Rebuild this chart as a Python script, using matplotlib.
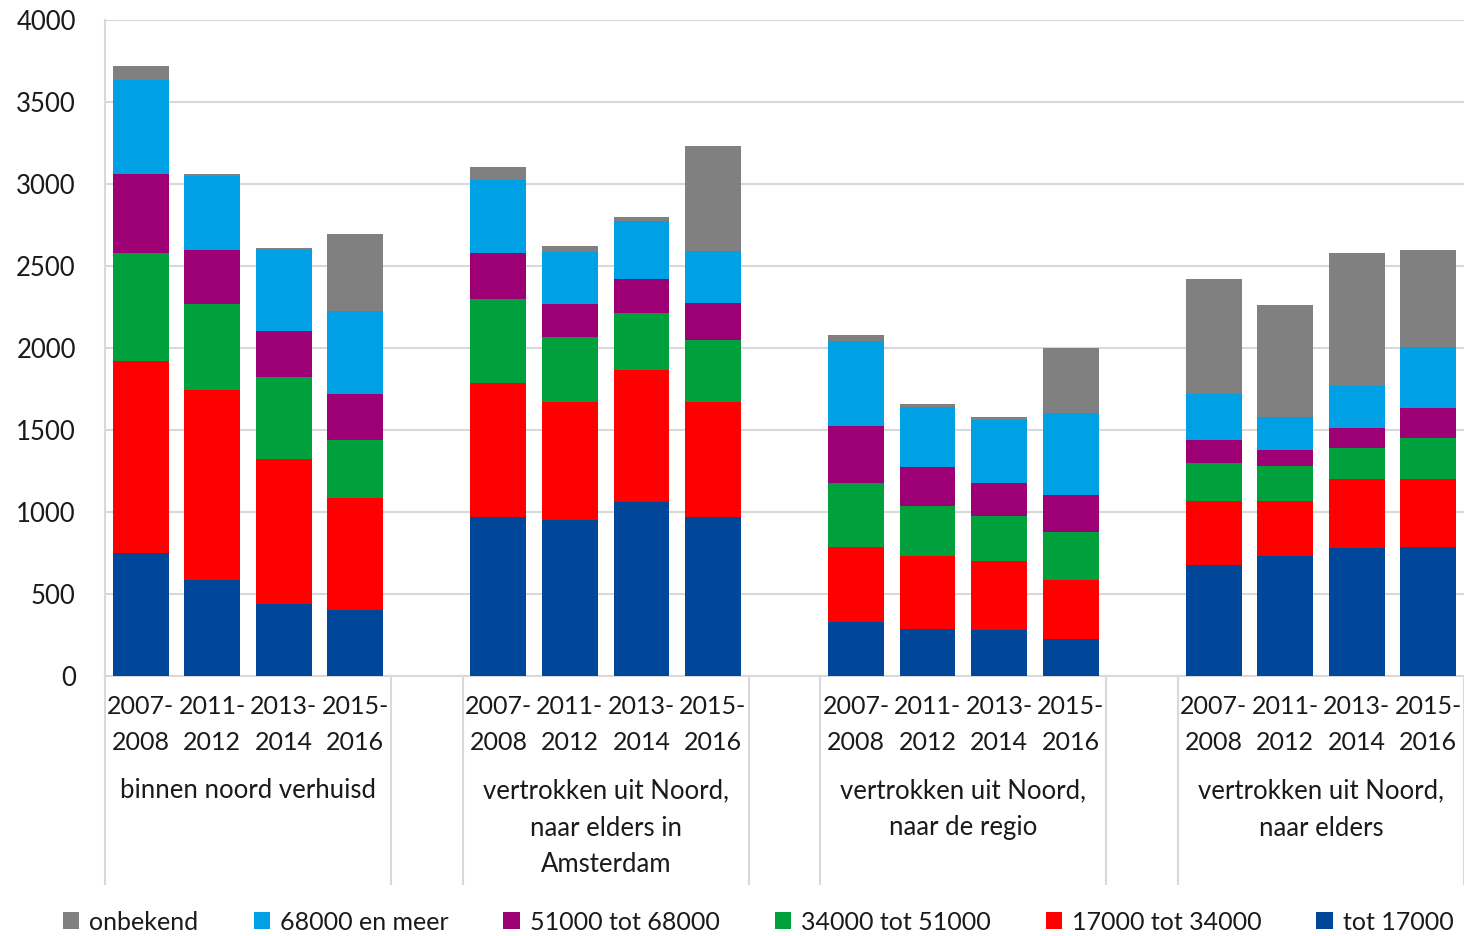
import numpy as np
import matplotlib.pyplot as plt

plt.rcParams['font.family'] = ['Lato', 'DejaVu Sans']

# categories
groups = ['binnen noord verhuisd',
          'vertrokken uit Noord,\nnaar elders in\nAmsterdam',
          'vertrokken uit Noord,\nnaar de regio',
          'vertrokken uit Noord,\nnaar elders']
periods_top = ['2007-', '2011-', '2013-', '2015-']
periods_bot = ['2008', '2012', '2014', '2016']

# series (4 groups x 4 periods, flattened)
tot_17000 = [750, 583, 436, 403,  967, 952, 1061, 970,  327, 285, 281, 224,  677, 732, 783, 787]
t17_34 = [1172, 1160, 890, 683,  822, 718, 804, 700,  458, 445, 422, 359,  390, 335, 421, 412]
t34_51 = [657, 528, 496, 354,  511, 395, 348, 380,  392, 309, 271, 295,  230, 212, 189, 251]
t51_68 = [482, 324, 280, 281,  278, 205, 209, 224,  346, 238, 203, 226,  142, 101, 118, 187]
meer_68 = [571, 455, 493, 504,  444, 317, 350, 317,  518, 362, 386, 500,  283, 200, 256, 372]
onbekend = [88, 8, 14, 473,  82, 35, 28, 640,  41, 20, 17, 396,  697, 681, 811, 589]

series = [('tot 17000', tot_17000, '#00479a'),
          ('17000 tot 34000', t17_34, '#ff0000'),
          ('34000 tot 51000', t34_51, '#00a03c'),
          ('51000 tot 68000', t51_68, '#9c0074'),
          ('68000 en meer', meer_68, '#00a0e4'),
          ('onbekend', onbekend, '#808080')]

fig = plt.figure(figsize=(14.64, 9.36), dpi=100)
ax = fig.add_axes([105 / 1464, 260 / 936, 1359 / 1464, 656 / 936])

# positions: 4 bars per group, one empty slot between groups
x = np.array([g * 5 + i for g in range(4) for i in range(4)])
bottom = np.zeros(len(x))
handles = {}
for name, vals, col in series:
    b = ax.bar(x, vals, width=0.78, bottom=bottom, color=col, label=name, zorder=3)
    handles[name] = b
    bottom += np.array(vals)

ax.set_xlim(-0.5, 18.5)
ax.set_ylim(0, 4000)
ax.set_yticks(range(0, 4001, 500))
ax.tick_params(axis='y', length=0, pad=21, labelsize=18.5, labelcolor='#1a1a1a')
ax.set_xticks([])
ax.grid(axis='y', color='#d9d9d9', linewidth=1.5, zorder=0)
for s in ['top', 'right']:
    ax.spines[s].set_visible(False)
for s in ['left', 'bottom']:
    ax.spines[s].set_color('#d9d9d9')
    ax.spines[s].set_linewidth(1.5)

# multi-level category axis
tr = ax.get_xaxis_transform()
for xi, k in zip(x, range(len(x))):
    ax.text(xi, -31 / 656, periods_top[k % 4], transform=tr, ha='center', va='center',
            fontsize=18, color='#1a1a1a')
    ax.text(xi, -67 / 656, periods_bot[k % 4], transform=tr, ha='center', va='center',
            fontsize=18, color='#1a1a1a')
for g, label in enumerate(groups):
    xc = g * 5 + 1.5
    for j, line in enumerate(label.split('\n')):
        ax.text(xc, -(115 + 37 * j) / 656, line, transform=tr, ha='center', va='center',
                fontsize=18.5, color='#1a1a1a')
    for xs in (g * 5 - 0.5, g * 5 + 3.5):
        ax.plot([xs, xs], [0, -208 / 656], transform=tr, color='#d9d9d9',
                linewidth=1.5, clip_on=False)

order = ['onbekend', '68000 en meer', '51000 tot 68000', '34000 tot 51000',
         '17000 tot 34000', 'tot 17000']
fig.legend([handles[n] for n in order], order, loc='center', ncol=6,
           bbox_to_anchor=(0.518, 14 / 936), frameon=False, fontsize=18,
           handlelength=0.65, handleheight=0.65, handletextpad=0.4, columnspacing=2.2,
           labelcolor='#1a1a1a')

fig.savefig('out.png', dpi=100)
